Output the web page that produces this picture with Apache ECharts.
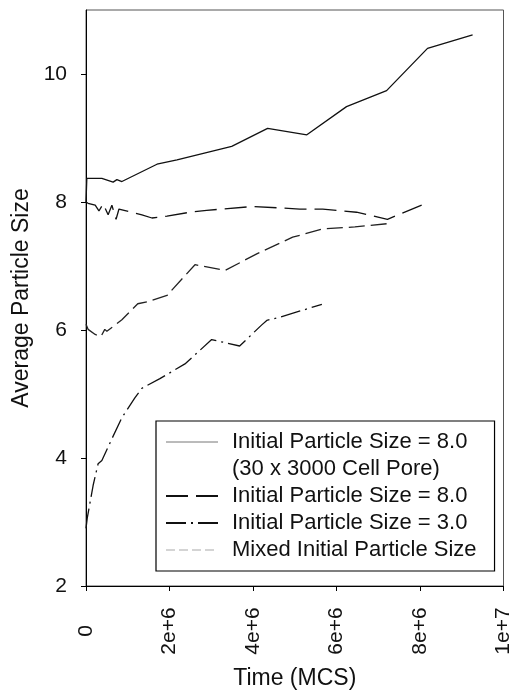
<!DOCTYPE html>
<html><head><meta charset="utf-8">
<script src="https://cdn.jsdelivr.net/npm/echarts@6/dist/echarts.min.js"></script>
<style>html,body{margin:0;padding:0;background:#fff}#c{width:514px;height:695px}</style>
</head><body><div id="c"></div>
<script>
// ---- data (time in units of 1e6 MCS) ----
const poreTime = [0, 0.02, 0.38, 0.65, 0.74, 0.86, 1.70, 2.18, 3.49, 4.35, 5.29, 6.24, 7.20, 8.18, 9.26];
const poreSize = [8.00, 8.37, 8.37, 8.31, 8.35, 8.32, 8.59, 8.66, 8.87, 9.15, 9.05, 9.49, 9.74, 10.40, 10.61];

const init8Time = [0, 0.05, 0.22, 0.31, 0.41, 0.53, 0.62, 0.72, 0.79, 1.10, 1.34, 1.58, 1.94, 2.49, 2.89, 4.00, 5.12, 5.67, 6.48, 7.22, 8.04];
const init8Size = [8.00, 7.98, 7.95, 7.86, 7.97, 7.80, 7.95, 7.73, 7.89, 7.84, 7.80, 7.75, 7.78, 7.84, 7.87, 7.93, 7.89, 7.89, 7.84, 7.73, 7.95];

const init3Time = [0, 0.03, 0.17, 0.29, 0.38, 0.62, 0.86, 1.17, 1.34, 1.77, 2.37, 3.01, 3.68, 4.21, 4.33, 4.64, 5.65];
const init3Size = [2.90, 3.06, 3.57, 3.91, 3.96, 4.30, 4.63, 4.94, 5.09, 5.24, 5.47, 5.85, 5.75, 6.08, 6.15, 6.20, 6.40];

const mixedTime = [0, 0.05, 0.22, 0.26, 0.36, 0.45, 0.50, 0.62, 0.86, 1.24, 1.46, 1.94, 2.61, 3.33, 4.09, 4.95, 5.67, 6.44, 7.20];
const mixedSize = [6.09, 6.01, 5.93, 5.96, 5.90, 6.01, 5.98, 6.04, 6.16, 6.41, 6.44, 6.54, 7.02, 6.93, 7.19, 7.45, 7.58, 7.61, 7.66];

const seriesNames = ['Initial Particle Size = 8.0', '(30 x 3000 Cell Pore)', 'Initial Particle Size = 8.0 ', 'Initial Particle Size = 3.0', 'Mixed Initial Particle Size'];
const xTicks = [0, 2e6, 4e6, 6e6, 8e6, 1e7];
const xTickLabels = ['0', '2e+6', '4e+6', '6e+6', '8e+6', '1e+7'];
const yTicks = [2, 4, 6, 8, 10];
const yTickLabels = ['2', '4', '6', '8', '10'];
const xTitle = 'Time (MCS)';
const yTitle = 'Average Particle Size';

// ---- build ----
const zip = (t, s) => t.map((v, i) => [v * 1e6, s[i]]);
const FONT = "'Liberation Sans', Arial, sans-serif";
const chart = echarts.init(document.getElementById('c'), null, {renderer: 'canvas'});

function lineSeries(name, data, color, type, width) {
  return {
    name, type: 'line', data, showSymbol: false, symbol: 'none', smooth: false,
    lineStyle: {color, width, type, cap: 'butt'}, itemStyle: {color},
    emphasis: {disabled: true}, animation: false
  };
}

chart.setOption({
  backgroundColor: '#fff',
  animation: false,
  grid: {left: 86, right: 10, top: 10, bottom: 104, show: true, borderColor: '#555', borderWidth: 1},
  xAxis: {
    type: 'value', min: 0, max: 1e7, interval: 2e6,
    axisLine: {show: true, lineStyle: {color: '#000', width: 1}},
    axisTick: {show: true, length: 5, lineStyle: {color: '#000'}, customValues: xTicks},
    axisLabel: {
      customValues: xTicks,
      rotate: 90, align: 'center', verticalAlign: 'middle', margin: 45,
      fontSize: 21, fontFamily: FONT, color: '#111',
      formatter: v => xTickLabels[xTicks.indexOf(v)] ?? ''
    },
    splitLine: {show: false},
    name: xTitle, nameLocation: 'middle', nameGap: 81,
    nameTextStyle: {fontSize: 23, fontFamily: FONT, color: '#111', verticalAlign: 'top'}
  },
  yAxis: {
    type: 'value', min: 2, max: 11, interval: 2,
    axisLine: {show: true, lineStyle: {color: '#000', width: 1}},
    axisTick: {show: true, length: 5, lineStyle: {color: '#000'}, customValues: yTicks},
    axisLabel: {
      customValues: yTicks, margin: 19,
      fontSize: 21, fontFamily: FONT, color: '#111',
      formatter: v => yTickLabels[yTicks.indexOf(v)] ?? ''
    },
    splitLine: {show: false},
    name: yTitle, nameLocation: 'middle', nameGap: 53,
    nameTextStyle: {fontSize: 23, fontFamily: FONT, color: '#111'}
  },
  legend: {
    orient: 'vertical', left: 156, top: 421,
    padding: [8, 18, 8, 9], itemGap: 1, itemWidth: 52, itemHeight: 14,
    backgroundColor: '#fff', borderColor: '#000', borderWidth: 1.2,
    selectedMode: false,
    itemStyle: {color: 'transparent', borderWidth: 0, opacity: 0},
    textStyle: {fontSize: 22, fontFamily: FONT, color: '#111', lineHeight: 26, padding: [0, 0, 0, 9]},
    data: [
      {name: seriesNames[0], lineStyle: {color: '#777', width: 1}},
      {name: seriesNames[1], icon: 'none'},
      {name: seriesNames[2]},
      {name: seriesNames[3]},
      {name: seriesNames[4], lineStyle: {color: '#aaa', width: 1.2, type: [9, 4]}}
    ]
  },
  series: [
    lineSeries(seriesNames[0], zip(poreTime, poreSize), '#111', 'solid', 1.3),
    {name: seriesNames[1], type: 'line', data: [], symbol: 'none', lineStyle: {width: 0}},
    lineSeries(seriesNames[2], zip(init8Time, init8Size), '#111', [22, 8], 1.3),
    lineSeries(seriesNames[3], zip(init3Time, init3Size), '#111', [20, 5, 2, 5], 1.3),
    lineSeries(seriesNames[4], zip(mixedTime, mixedSize), '#222', [16, 6], 1.3)
  ]
});
</script>
</body></html>
